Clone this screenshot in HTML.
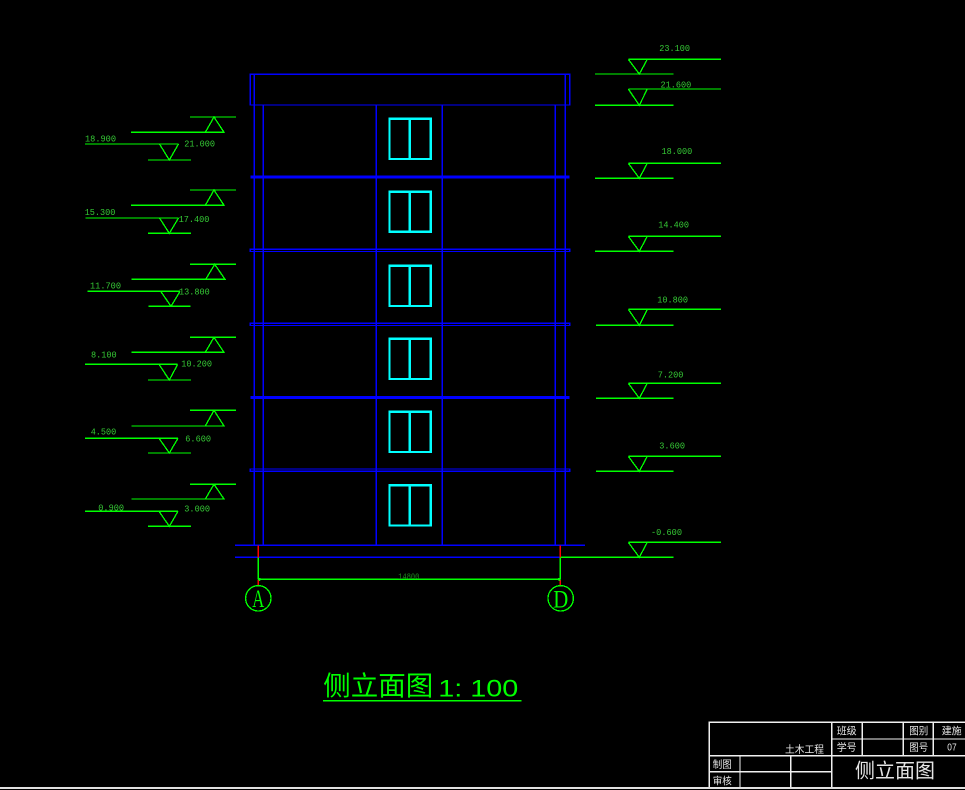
<!DOCTYPE html>
<html><head><meta charset="utf-8"><style>
html,body{margin:0;padding:0;background:#000;}
svg{display:block;}
.g{stroke:#00ff00;stroke-width:1.3;fill:none;}
.b{stroke:#0000ff;stroke-width:1.2;fill:none;}
.c{stroke:#00ffff;stroke-width:2.3;fill:none;}
.w{stroke:#f0f0f0;stroke-width:1.2;fill:none;}
.t{font-family:"Liberation Mono",monospace;font-size:9.5px;fill:#35c835;}
.tb{font-family:"Liberation Sans","Noto Sans CJK SC",sans-serif;font-size:10px;fill:#e6e6e6;}
</style></head><body>
<svg width="965" height="790" viewBox="0 0 965 790" xmlns="http://www.w3.org/2000/svg" shape-rendering="crispEdges">
<rect width="965" height="790" fill="#000"/>

<!-- Building -->
<rect class="b" x="250.3" y="74.3" width="319.4" height="30.7"/>
<line class="b" x1="254.3" y1="74.3" x2="254.3" y2="545.3"/>
<line class="b" x1="565.3" y1="74.3" x2="565.3" y2="545.3"/>
<line class="b" x1="263.3" y1="105" x2="263.3" y2="545.3"/>
<line class="b" x1="376.3" y1="105" x2="376.3" y2="545.3"/>
<line class="b" x1="442.3" y1="105" x2="442.3" y2="545.3"/>
<line class="b" x1="555.3" y1="105" x2="555.3" y2="545.3"/>
<!-- floor lines -->
<rect x="250.3" y="175.6" width="319.4" height="3" fill="#0000ff"/>
<rect class="b" x="250.3" y="249.3" width="319.4" height="2.2" stroke-width="1"/>
<rect class="b" x="250.3" y="323.3" width="319.4" height="2.2" stroke-width="1"/>
<rect x="250.3" y="396" width="319.4" height="3" fill="#0000ff"/>
<rect class="b" x="250.3" y="469" width="319.4" height="2.2" stroke-width="1"/>
<!-- ground -->
<line class="b" x1="235" y1="545.3" x2="585" y2="545.3"/>
<line class="b" x1="235" y1="557.3" x2="560" y2="557.3"/>

<!-- windows -->
<g class="c">
<rect x="389.5" y="118.8" width="41.2" height="40.2"/><line x1="409.8" y1="118.8" x2="409.8" y2="159"/>
<rect x="389.5" y="191.6" width="41.2" height="40.2"/><line x1="409.8" y1="191.6" x2="409.8" y2="231.8"/>
<rect x="389.5" y="265.8" width="41.2" height="40.2"/><line x1="409.8" y1="265.8" x2="409.8" y2="306"/>
<rect x="389.5" y="338.8" width="41.2" height="40.2"/><line x1="409.8" y1="338.8" x2="409.8" y2="379"/>
<rect x="389.5" y="411.8" width="41.2" height="40.2"/><line x1="409.8" y1="411.8" x2="409.8" y2="452"/>
<rect x="389.5" y="485.4" width="41.2" height="40.2"/><line x1="409.8" y1="485.4" x2="409.8" y2="525.6"/>
</g>

<!-- Left elevation symbols -->
<g class="g">
<path d="M190 117H236M214 117L205.3 132.3H224Z M131 132.3H224 M85 144H178.5 M159.5 144L169.3 160L178.5 144 M148 160H191"/>
<path d="M190 190H236M214 190L205.3 205.3H224Z M131 205.3H224 M85.7 218H178.5 M159.5 218L169.3 233.3L178.5 218 M148 233.3H191"/>
<path d="M190 264.3H236M214.7 264.3L205.7 279.3H225Z M131.7 279.3H225 M87.3 291.3H180 M160.7 291.3L171 306.3L180 291.3 M148.3 306.3H190.7"/>
<path d="M190 337.3H236M214 337.3L205.3 352.3H224Z M131.7 352.3H224 M85 364.3H177.7 M159 364.3L169.3 380L177.7 364.3 M148 380H191"/>
<path d="M190 410.3H236M214 410.3L205.3 426H224Z M131.7 426H224 M85 438.3H178 M159 438.3L169.3 453L178 438.3 M148 453H191"/>
<path d="M190 484.3H236M214 484.3L205.3 499H224Z M131.7 499H224 M85 511.3H178 M159 511.3L169.3 526.3L178 511.3 M148 526.3H191"/>
</g>
<g class="t">
<text x="85" y="141.7" textLength="31" lengthAdjust="spacingAndGlyphs">18.900</text>
<text x="184.3" y="146.7" textLength="30.7" lengthAdjust="spacingAndGlyphs">21.000</text>
<text x="84.7" y="215" textLength="30.7" lengthAdjust="spacingAndGlyphs">15.300</text>
<text x="178.7" y="222" textLength="30.7" lengthAdjust="spacingAndGlyphs">17.400</text>
<text x="90" y="288.7" textLength="31" lengthAdjust="spacingAndGlyphs">11.700</text>
<text x="179" y="294.7" textLength="30.7" lengthAdjust="spacingAndGlyphs">13.800</text>
<text x="91" y="357.7" textLength="25.7" lengthAdjust="spacingAndGlyphs">8.100</text>
<text x="181.3" y="366.7" textLength="30.7" lengthAdjust="spacingAndGlyphs">10.200</text>
<text x="90.7" y="434.7" textLength="25.5" lengthAdjust="spacingAndGlyphs">4.500</text>
<text x="185.3" y="441.7" textLength="25.7" lengthAdjust="spacingAndGlyphs">6.600</text>
<text x="98.3" y="510.7" textLength="25.7" lengthAdjust="spacingAndGlyphs">0.900</text>
<text x="184.3" y="511.3" textLength="25.7" lengthAdjust="spacingAndGlyphs">3.000</text>
</g>

<!-- Right elevation symbols -->
<g class="g">
<path d="M628.3 59.3H721 M628.3 59.3L639.3 74L647.3 59.3 M595 74H673.3"/>
<path d="M628.3 89H721 M628.3 89L639.3 105.3L647.3 89 M595 105.3H673.3"/>
<path d="M628.3 163.3H721 M628.3 163.3L639.3 178.3L647.3 163.3 M595 178.3H673.3"/>
<path d="M628.3 236.3H721 M628.3 236.3L639.3 251.3L647.3 236.3 M595 251.3H673.3"/>
<path d="M628.3 309.3H721 M628.3 309.3L639.3 325.3L647.3 309.3 M596 325.3H673.3"/>
<path d="M628.3 383.3H721 M628.3 383.3L639.3 398.3L647.3 383.3 M596 398.3H673.3"/>
<path d="M628.3 456.3H721 M628.3 456.3L639.3 471.3L647.3 456.3 M596 471.3H673.3"/>
<path d="M628.3 542.3H721 M628.3 542.3L639.3 557.3L647.3 542.3 M560.3 557.3H673.3"/>
</g>
<g class="t">
<text x="659.3" y="51" textLength="30.7" lengthAdjust="spacingAndGlyphs">23.100</text>
<text x="660.5" y="87.7" textLength="30.7" lengthAdjust="spacingAndGlyphs">21.600</text>
<text x="661.5" y="154" textLength="30.7" lengthAdjust="spacingAndGlyphs">18.000</text>
<text x="658.3" y="227.7" textLength="30.7" lengthAdjust="spacingAndGlyphs">14.400</text>
<text x="657.3" y="302.7" textLength="30.7" lengthAdjust="spacingAndGlyphs">10.800</text>
<text x="657.7" y="377.7" textLength="25.7" lengthAdjust="spacingAndGlyphs">7.200</text>
<text x="659.3" y="448.7" textLength="25.7" lengthAdjust="spacingAndGlyphs">3.600</text>
<text x="651" y="535" textLength="31" lengthAdjust="spacingAndGlyphs">-0.600</text>
</g>

<!-- Axis & dimension -->
<g stroke="#ff0000" stroke-width="1.3">
<line x1="258.3" y1="545.3" x2="258.3" y2="557.3"/>
<line x1="560.3" y1="545.3" x2="560.3" y2="557.3"/>
<line x1="258.3" y1="580" x2="258.3" y2="585.6"/>
<line x1="560.3" y1="580" x2="560.3" y2="585.6"/>
</g>
<g class="g">
<line x1="258.3" y1="557.3" x2="258.3" y2="579.3"/>
<line x1="560.3" y1="557.3" x2="560.3" y2="579.3"/>
<line x1="258.3" y1="579.3" x2="560.3" y2="579.3"/>
<circle cx="258.3" cy="598.3" r="12.7"/>
<circle cx="560.7" cy="598.3" r="12.7"/>
</g>
<circle cx="259.5" cy="579.3" r="1.5" fill="#00ff00"/>
<circle cx="559.3" cy="579.3" r="1.5" fill="#00ff00"/>
<text x="398.3" y="579" font-family="Liberation Mono, monospace" font-size="8" fill="#1f8a1f" textLength="21" lengthAdjust="spacingAndGlyphs">14800</text>
<text x="252.2" y="606.8" font-family="Liberation Serif, serif" font-size="25" fill="#00ff00" textLength="12" lengthAdjust="spacingAndGlyphs">A</text>
<text x="553.3" y="607.5" font-family="Liberation Serif, serif" font-size="25" fill="#00ff00" textLength="15" lengthAdjust="spacingAndGlyphs">D</text>

<!-- Title -->
<text x="323.3" y="695.5" font-family="Liberation Sans, 'Noto Sans CJK SC', sans-serif" font-size="27" fill="#00ff00" textLength="110" lengthAdjust="spacingAndGlyphs">侧立面图</text>
<text x="438.3" y="696.7" font-family="Liberation Sans, sans-serif" font-size="24" fill="#00ff00" textLength="80" lengthAdjust="spacingAndGlyphs">1: 100</text>
<line x1="323" y1="700.7" x2="521.7" y2="700.7" stroke="#00ff00" stroke-width="1.5"/>

<!-- Title block -->
<g class="w">
<path d="M709.3 787.3V722.3H966"/>
<path d="M831.7 739H966 M709.3 755.7H966 M709.3 771.7H831.7"/>
<path d="M831.7 722.3V787.3 M862.3 722.3V755.7 M903.3 722.3V755.7 M933.3 722.3V755.7 M740 755.7V787.3 M790.7 755.7V787.3"/>
</g>
<line x1="0" y1="788" x2="965" y2="788" stroke="#e0e0e0" stroke-width="1.6"/>
<g class="tb">
<text x="836.7" y="734.5" textLength="20" lengthAdjust="spacingAndGlyphs">班级</text>
<text x="836.7" y="750.8" textLength="20" lengthAdjust="spacingAndGlyphs">学号</text>
<text x="909.3" y="734.5" textLength="19" lengthAdjust="spacingAndGlyphs">图别</text>
<text x="941.7" y="734.5" textLength="20" lengthAdjust="spacingAndGlyphs">建施</text>
<text x="909.3" y="750.8" textLength="19" lengthAdjust="spacingAndGlyphs">图号</text>
<text x="947.3" y="750.5" textLength="9.3" lengthAdjust="spacingAndGlyphs">07</text>
<text x="785" y="752.8" textLength="39" lengthAdjust="spacingAndGlyphs">土木工程</text>
<text x="712.7" y="768.1" textLength="19" lengthAdjust="spacingAndGlyphs">制图</text>
<text x="712.7" y="784.5" textLength="19" lengthAdjust="spacingAndGlyphs">审核</text>
<text x="855" y="777.6" font-size="20" textLength="80" lengthAdjust="spacingAndGlyphs">侧立面图</text>
</g>
</svg>
</body></html>
